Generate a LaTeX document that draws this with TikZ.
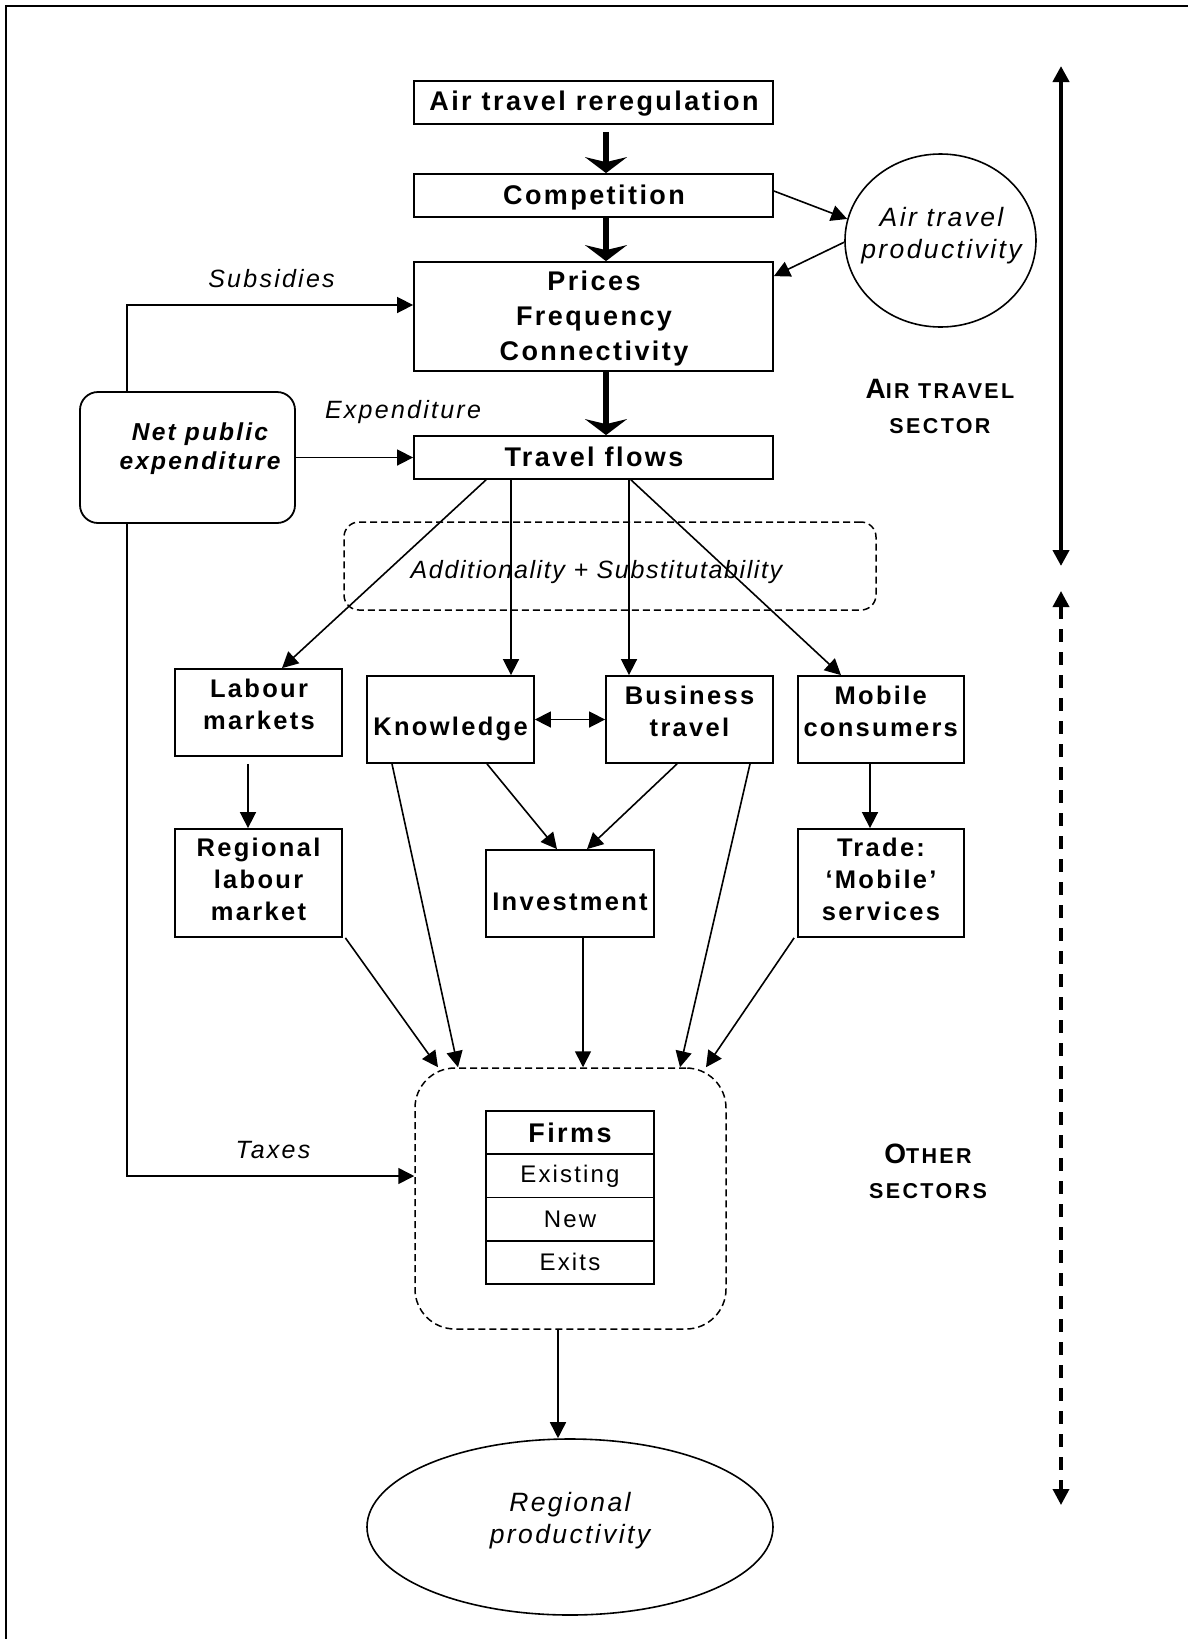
\documentclass[tikz,border=0pt]{standalone}
\usepackage{fontspec}
\setmainfont{Liberation Sans}[LetterSpace=9,Ligatures=NoCommon]
\newfontfamily\addfam{Liberation Sans}[LetterSpace=6.5,Ligatures=NoCommon]
\newfontfamily\secfam{Liberation Sans}[LetterSpace=11,Ligatures=NoCommon]
\usetikzlibrary{arrows.meta,shapes.geometric}
\newcommand\myBig{\fontsize{27}{34.8}\selectfont\bfseries}
\newcommand\myMid{\fontsize{25.5}{32}\selectfont\bfseries}
\newcommand\myLab{\fontsize{25}{31}\selectfont\itshape}
\newcommand\myEll{\fontsize{26.5}{32}\selectfont\itshape}
\newcommand\myNet{\fontsize{24.5}{29.3}\selectfont\bfseries\itshape}
\newcommand\myReg{\fontsize{24}{29}\selectfont}
\newcommand\myAdd{\addfam\fontsize{25}{31}\selectfont\itshape}
\newcommand\mySecA{\secfam\fontsize{28}{35}\selectfont\bfseries}
\newcommand\mySecB{\fontsize{21.5}{35}\selectfont}
\begin{document}
\begin{tikzpicture}[x=1pt,y=-1pt,
  box/.style={draw,line width=1.8pt,inner sep=0pt},
  txt/.style={inner sep=0pt,align=center},
  conn/.style={line width=1.6pt,-{Triangle[length=16pt,width=16pt]}},
  dconn/.style={line width=1.6pt,{Triangle[length=16pt,width=16pt]}-{Triangle[length=16pt,width=16pt]}},
  bigarr/.style={line width=5.5pt,-{Stealth[length=16pt,width=42pt,inset=5pt]}},
  dashbox/.style={draw,line width=1.5pt,dash pattern=on 7pt off 4pt},
  ell/.style={draw,ellipse,line width=1.6pt,inner sep=0pt}]
\useasboundingbox (0,0) rectangle (1188,1639);
% frame
\draw[line width=2pt] (6,1639) -- (6,6) -- (1188,6);

% dashed groups
\node[dashbox,rounded corners=15pt,minimum width=532pt,minimum height=88pt] (addbox) at (610,566) {};
\node[txt,font=\myAdd] (addtxt) at (596.5,571.7) {Additionality + Substitutability};
\node[dashbox,rounded corners=40pt,minimum width=311pt,minimum height=261pt] (firmsc) at (570.5,1198.5) {};

% top boxes
\node[box,minimum width=359pt,minimum height=43pt] (rereg) at (593.5,102.5) {};
\node[txt,font=\myBig] (trereg) at (594,104) {Air travel reregulation};
\node[box,minimum width=359pt,minimum height=43pt] (comp) at (593.5,195.5) {};
\node[txt,font=\myBig] (tcomp) at (594,198) {Competition};
\node[box,minimum width=359pt,minimum height=109pt] (prices) at (593.5,316.5) {};
\node[txt,font=\myBig] (tprices) at (594,318.6) {Prices\\Frequency\\Connectivity};
\node[box,minimum width=359pt,minimum height=43pt] (flows) at (593.5,457.5) {};
\node[txt,font=\myBig] (tflows) at (594,457) {Travel flows};

% air travel productivity
\node[ell,minimum width=191pt,minimum height=173pt] (atp) at (940.5,240.5) {};
\node[txt,font=\myEll] (tatp) at (941.5,235.4) {Air travel\\productivity};

% net public expenditure
\node[box,rounded corners=18pt,minimum width=215pt,minimum height=131pt] (net) at (187.5,457.5) {};
\node[txt,font=\myNet] (tnet) at (200,448.8) {Net public\\expenditure};

% labels
\node[txt,font=\myLab] (lsub) at (271.5,279) {Subsidies};
\node[txt,font=\myLab] (lexp) at (403,411.6) {Expenditure};
\node[txt,font=\myLab] (ltax) at (273,1150.5) {Taxes};

% middle boxes
\node[box,minimum width=167pt,minimum height=87pt] (labour) at (258.5,712.5) {};
\node[txt,font=\myMid] (tlabour) at (259,704.8) {Labour\\markets};
\node[box,minimum width=167pt,minimum height=87pt] (know) at (450.5,719.5) {};
\node[txt,font=\myMid] (tknow) at (450.5,729.3) {Knowledge};
\node[box,minimum width=167pt,minimum height=87pt] (bus) at (689.5,719.5) {};
\node[txt,font=\myMid] (tbus) at (689.5,711.4) {Business\\travel};
\node[box,minimum width=166pt,minimum height=87pt] (mob) at (881,719.5) {};
\node[txt,font=\myMid] (tmob) at (880.7,711.4) {Mobile\\consumers};

\node[box,minimum width=167pt,minimum height=108pt] (reglab) at (258.5,883) {};
\node[txt,font=\myMid] (treglab) at (258.5,879.7) {Regional\\labour\\market};
\node[box,minimum width=168pt,minimum height=87pt] (inv) at (570,893.5) {};
\node[txt,font=\myMid] (tinv) at (570,902) {Investment};
\node[box,minimum width=166pt,minimum height=108pt] (trade) at (881,883) {};
\node[txt,font=\myMid] (ttrade) at (881,879.7) {Trade:\\‘Mobile’\\services};

% firms table
\node[box,minimum width=168pt,minimum height=43.25pt,font=\myBig] (f1) at (570,1132.6) {Firms};
\node[box,minimum width=168pt,minimum height=43.25pt,font=\myReg] (f2) at (570,1175.9) {Existing};
\node[box,minimum width=168pt,minimum height=43.25pt,font=\myReg] (f3) at (570,1219.1) {New};
\node[box,minimum width=168pt,minimum height=43.25pt,font=\myReg] (f4) at (570,1262.4) {Exits};

% regional productivity
\node[ell,minimum width=406pt,minimum height=176pt] (regprod) at (570,1527) {};
\node[txt,font=\myEll] (tregprod) at (570,1521) {Regional\\productivity};

% sector labels
\node[txt,font=\mySecA] (secair) at (940,406.5) {A{\mySecB IR TRAVEL}\\\mySecB SECTOR};
\node[txt,font=\mySecA] (secoth) at (928,1171) {O{\mySecB THER}\\\mySecB SECTORS};

% right side arrows
\coordinate (r1) at (1061,66);
\coordinate (r2) at (1061,566);
\coordinate (r3) at (1061,591);
\coordinate (r4) at (1061,1505);
\draw[line width=4pt,{Triangle[length=16pt,width=16pt]}-{Triangle[length=16pt,width=16pt]}] (r1) -- (r2);
\draw[line width=3.5pt,dash pattern=on 13pt off 10pt,{Triangle[length=16pt,width=16pt]}-{Triangle[length=16pt,width=16pt]}] (r3) -- (r4);

% thick arrows
\draw[bigarr,shorten <=7pt] ([xshift=12.5pt]rereg.south) -- ([xshift=12.5pt]comp.north);
\draw[bigarr] ([xshift=12.5pt]comp.south) -- ([xshift=12.5pt]prices.north);
\draw[bigarr] ([xshift=12.5pt]prices.south) -- ([xshift=12.5pt]flows.north);

% productivity loop
\draw[conn] ([yshift=4.5pt]comp.east) -- (atp.167);
\draw[conn] (atp.181) -- ([yshift=-15pt]prices.north east);

% public expenditure
\draw[conn] ([xshift=-60.5pt]net.north) |- ([yshift=11.5pt]prices.west);
\draw[conn] (net.east) -- (flows.west);
\draw[conn] ([xshift=-60.5pt]net.south) |- ([yshift=22.5pt]firmsc.west);

% travel flows out
\draw[conn] ([xshift=-107.5pt]flows.south) -- ([xshift=23.5pt]labour.north);
\draw[conn] ([xshift=-82.5pt]flows.south) -- ([xshift=60.5pt]know.north);
\draw[conn] ([xshift=35.5pt]flows.south) -- ([xshift=-60.5pt]bus.north);
\draw[conn] ([xshift=37.5pt]flows.south) -- ([xshift=-40pt]mob.north);
\draw[dconn] (know.east) -- (bus.west);

% second level
\draw[conn,shorten <=7pt] ([xshift=-10.5pt]labour.south) -- ([xshift=-10.5pt]reglab.north);
\draw[conn] ([xshift=-11pt]mob.south) -- ([xshift=-11pt]trade.north);
\draw[conn] ([xshift=36.5pt]know.south) -- ([xshift=-13pt]inv.north);
\draw[conn] ([xshift=-12.5pt]bus.south) -- ([xshift=17pt]inv.north);

% into firms
\draw[conn] ([xshift=2.5pt]reglab.south east) -- ([xshift=-132.5pt]firmsc.north);
\draw[conn] ([xshift=-58.5pt]know.south) -- ([xshift=-112.5pt]firmsc.north);
\draw[conn] ([xshift=13pt]inv.south) -- ([xshift=12.5pt]firmsc.north);
\draw[conn] ([xshift=60.5pt]bus.south) -- ([xshift=109.5pt]firmsc.north);
\draw[conn] ([xshift=-3pt]trade.south west) -- ([xshift=135.5pt]firmsc.north);

% to regional productivity
\draw[conn] ([xshift=-12.5pt]firmsc.south) -- ([xshift=-12pt]regprod.north);
\end{tikzpicture}
\end{document}
